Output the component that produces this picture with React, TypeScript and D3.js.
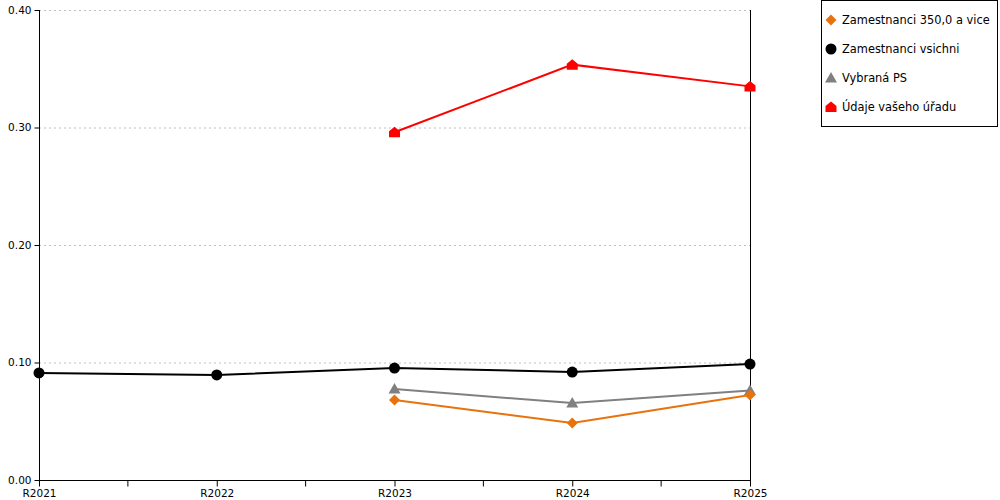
import * as d3 from 'd3';
import React, { useEffect, useRef } from 'react';

const categories = ['R2021', 'R2022', 'R2023', 'R2024', 'R2025'];
const yTicks = [0, 0.1, 0.2, 0.3, 0.4];

const allEmployees = [0.0911, 0.0894, 0.0953, 0.0919, 0.0987];
const bigEmployers = [null, null, 0.068, 0.0485, 0.0723];
const selectedPS = [null, null, 0.0774, 0.0655, 0.0762];
const yourOffice = [null, null, 0.296, 0.3535, 0.335];

type Series = {
  name: string;
  values: (number | null)[];
  color: string;
  marker: 'diamond' | 'circle' | 'triangle' | 'house';
};

const series: Series[] = [
  { name: 'Zamestnanci 350,0 a vice', values: bigEmployers, color: '#e8720c', marker: 'diamond' },
  { name: 'Zamestnanci vsichni', values: allEmployees, color: '#000000', marker: 'circle' },
  { name: 'Vybraná PS', values: selectedPS, color: '#808080', marker: 'triangle' },
  { name: 'Údaje vašeho úřadu', values: yourOffice, color: '#ff0000', marker: 'house' },
];

// draw order: grey and orange under, black, red on top
const drawOrder = [2, 0, 1, 3];

const markerPath = (m: Series['marker']) => {
  switch (m) {
    case 'diamond':
      return 'M0,-5.5L5.5,0L0,5.5L-5.5,0Z';
    case 'circle':
      return d3.symbol().type(d3.symbolCircle).size(95)() as string;
    case 'triangle':
      return 'M0,-6L6,4.5L-6,4.5Z';
    case 'house':
      return 'M0,-5.5L5.5,-1L5.5,5L-5.5,5L-5.5,-1Z';
  }
};

const App = () => {
  const svgRef = useRef(null);
  const width = 1000;
  const height = 500;

  useEffect(() => {
    const svg = d3.select(svgRef.current);
    svg.selectAll('*').remove();

    const left = 39;
    const right = 750;
    const top = 10;
    const bottom = 480;

    const x = d3.scalePoint().domain(categories).range([left, right]);
    const y = d3.scaleLinear().domain([0, 0.4]).range([bottom, top]);
    const font = 'DejaVu Sans, sans-serif';

    // grid
    svg
      .append('g')
      .selectAll('line')
      .data(yTicks.filter((t) => t > 0))
      .enter()
      .append('line')
      .attr('x1', left)
      .attr('x2', right)
      .attr('y1', (d) => y(d) + 0.5)
      .attr('y2', (d) => y(d) + 0.5)
      .style('stroke', '#c0c0c0')
      .style('stroke-dasharray', '2,3');

    // right border line
    svg
      .append('line')
      .attr('x1', right + 0.5)
      .attr('x2', right + 0.5)
      .attr('y1', top)
      .attr('y2', bottom)
      .style('stroke', '#000');

    // y axis
    const yAxis = svg
      .append('g')
      .attr('transform', `translate(${left + 0.5},0)`)
      .call(
        d3
          .axisLeft(y)
          .tickValues(yTicks)
          .tickSize(5)
          .tickPadding(3)
          .tickFormat((d) => d3.format('.2f')(d as number))
      );
    yAxis.select('.domain').attr('d', `M0,${top}V${bottom + 0.5}`);
    yAxis.selectAll('text').style('font-family', font).style('font-size', '10.5px').attr('fill', '#000');

    // x axis
    const xAxis = svg
      .append('g')
      .attr('transform', `translate(0,${bottom + 0.5})`)
      .call(d3.axisBottom(x).tickSize(6).tickPadding(3));
    xAxis.select('.domain').attr('d', `M${left},0H${right + 1}`);
    xAxis.selectAll('text').style('font-family', font).style('font-size', '10.5px').attr('fill', '#000');

    // minor ticks between categories
    const step = x.step();
    xAxis
      .append('g')
      .selectAll('line')
      .data(categories.slice(0, -1))
      .enter()
      .append('line')
      .attr('x1', (d) => (x(d) as number) + step / 2)
      .attr('x2', (d) => (x(d) as number) + step / 2)
      .attr('y1', 0)
      .attr('y2', 6)
      .style('stroke', '#000');

    const line = d3
      .line<number | null>()
      .defined((d) => d !== null)
      .x((_, i) => x(categories[i]) as number)
      .y((d) => y(d as number));

    drawOrder.forEach((idx) => {
      const s = series[idx];
      svg
        .append('path')
        .datum(s.values)
        .attr('d', line)
        .style('fill', 'none')
        .style('stroke', s.color)
        .style('stroke-width', 2);

      svg
        .append('g')
        .selectAll('path')
        .data(s.values.map((v, i) => ({ v, c: categories[i] })).filter((d) => d.v !== null))
        .enter()
        .append('path')
        .attr('d', markerPath(s.marker))
        .attr('transform', (d) => `translate(${x(d.c)},${y(d.v as number)})`)
        .style('fill', s.color);
    });

    // legend
    const legend = svg.append('g');
    legend
      .append('rect')
      .attr('x', 821.5)
      .attr('y', 0.5)
      .attr('width', 176)
      .attr('height', 126)
      .style('fill', '#fff')
      .style('stroke', '#000');

    series.forEach((s, i) => {
      const ly = 20 + i * 29;
      legend
        .append('path')
        .attr('d', markerPath(s.marker))
        .attr('transform', `translate(831,${ly})`)
        .style('fill', s.color);
      legend
        .append('text')
        .attr('x', 842)
        .attr('y', ly)
        .attr('dy', '0.35em')
        .style('font-family', font)
        .style('font-size', '11.4px')
        .text(s.name);
    });
  }, []);

  return (
    <svg
      ref={svgRef}
      width={width}
      height={height}
      style={{ position: 'absolute', left: 0, top: 0 }}
    />
  );
};

export default App;
